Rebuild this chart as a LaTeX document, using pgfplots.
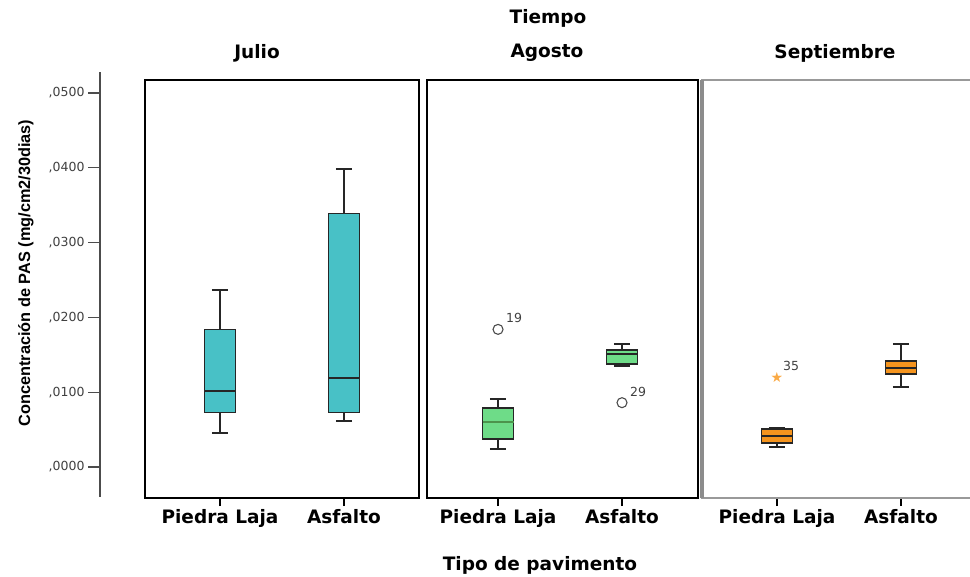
\documentclass[border=0pt]{standalone}
\usepackage{fontspec}
\setmainfont{DejaVu Sans}
\newfontfamily\lib{Liberation Sans}
\usepackage{pgfplots}
\pgfplotsset{compat=1.18}
\usepgfplotslibrary{statistics}
\definecolor{cteal}{RGB}{72,193,198}
\definecolor{cgreen}{RGB}{110,220,136}
\definecolor{corange}{RGB}{245,148,30}
\definecolor{cstar}{RGB}{250,170,70}
\newcommand\lab{\fontsize{18.5}{20}\selectfont\bfseries}
\newcommand\smf{\fontsize{12.5}{13}\selectfont}
\pgfplotsset{
  panel/.style={scale only axis, height=418pt, anchor=south west,
    ymin=-0.004144, ymax=0.05174, ytick=\empty, scaled y ticks=false,
    xtick={1,2}, xticklabels={Piedra Laja,Asfalto}, xtick pos=bottom,
    tick align=outside, major tick length=8pt,
    x tick label style={font=\lab, text=black},
    xtick style={black, line width=1.3pt},
    axis line style={line width=1.6pt}, clip=false,
    boxplot/draw direction=y},
  bx/.style={draw=black!85, line width=1.7pt, fill=#1},
  outl/.style={only marks, mark=o, mark size=5pt, mark options={draw=black!70, line width=1.1pt},
    point meta=explicit symbolic, nodes near coords,
    every node near coord/.append style={font=\smf, text=black!75, anchor=center, xshift=16pt, yshift=11pt}},
}
\begin{document}
\begin{tikzpicture}
\path[use as bounding box] (0pt,0pt) rectangle (970pt,-577pt);

% y axis
\begin{axis}[at={(100pt,-497pt)}, anchor=south west, scale only axis, width=1pt, height=425pt,
  xmin=0, xmax=1, ymin=-0.004011, ymax=0.05281, axis x line=none, axis y line*=left,
  ytick={0,0.01,0.02,0.03,0.04,0.05}, scaled y ticks=false,
  yticklabels={{,0000},{,0100},{,0200},{,0300},{,0400},{,0500}},
  tick align=outside, major tick length=12pt,
  y tick label style={font=\smf, text=black!75},
  axis line style={line width=1.8pt, black!70}, ytick style={line width=1.3pt, black!70}]
\addplot[draw=none] coordinates {(0.5,0.01)};
\end{axis}

% Julio
\begin{axis}[panel, at={(145pt,-498pt)}, width=274pt, xmin=0.395, xmax=2.605]
\addplot[bx=cteal, boxplot prepared={draw position=1, lower whisker=0.0045, lower quartile=0.0073,
  median=0.0102, upper quartile=0.0184, upper whisker=0.0237, box extend=0.25, whisker extend=0.13}] coordinates {};
\addplot[bx=cteal, boxplot prepared={draw position=2, lower whisker=0.00615, lower quartile=0.0073,
  median=0.01186, upper quartile=0.0339, upper whisker=0.0398, box extend=0.25, whisker extend=0.13}] coordinates {};
\end{axis}

% Agosto
\begin{axis}[panel, at={(427pt,-498pt)}, width=271pt, xmin=0.427, xmax=2.613]
\addplot[bx=cgreen, boxplot/every median/.style={draw=green!40!black!70}, boxplot prepared={draw position=1, lower whisker=0.00237, lower quartile=0.0037,
  median=0.00606, upper quartile=0.00793, upper whisker=0.00905, box extend=0.25, whisker extend=0.13}] coordinates {};
\addplot[bx=cgreen, boxplot prepared={draw position=2, lower whisker=0.0135, lower quartile=0.01377,
  median=0.01511, upper quartile=0.01564, upper whisker=0.0164, box extend=0.25, whisker extend=0.13}] coordinates {};
\addplot[outl] coordinates {(1,0.0184) [19] (2,0.0086) [29]};
\end{axis}

% Septiembre
\begin{axis}[panel, at={(702pt,-498pt)}, width=274pt, xmin=0.395, xmax=2.605,
  axis line style={line width=1.8pt, black!40}]
\draw[black!45, line width=3.5pt] (rel axis cs:0,0) -- (rel axis cs:0,1);
\addplot[bx=corange, boxplot prepared={draw position=1, lower whisker=0.00271, lower quartile=0.00325,
  median=0.00419, upper quartile=0.00504, upper whisker=0.00526, box extend=0.25, whisker extend=0.13}] coordinates {};
\addplot[bx=corange, boxplot prepared={draw position=2, lower whisker=0.01074, lower quartile=0.01243,
  median=0.0132, upper quartile=0.01421, upper whisker=0.0164, box extend=0.25, whisker extend=0.13}] coordinates {};
\addplot[only marks, mark=text, text mark={\fontsize{14}{14}\selectfont\textcolor{cstar}{★}},
  point meta=explicit symbolic, nodes near coords,
  every node near coord/.append style={font=\smf, text=black!75, anchor=center, xshift=14pt, yshift=11pt}]
  coordinates {(1,0.0120) [35]};
\end{axis}

% titles
\node[font=\lab] at (548pt,-18pt) {Tiempo};
\node[font=\lab] at (257pt,-53pt) {Julio};
\node[font=\lab] at (547pt,-53pt) {Agosto};
\node[font=\lab] at (835pt,-53pt) {Septiembre};
\node[font=\lab] at (540pt,-565pt) {Tipo de pavimento};
\node[rotate=90] at (26pt,-273pt) {\lib\bfseries\fontsize{16.3}{17}\selectfont Concentración de PAS (mg/cm2/30dias)};
\end{tikzpicture}
\end{document}
